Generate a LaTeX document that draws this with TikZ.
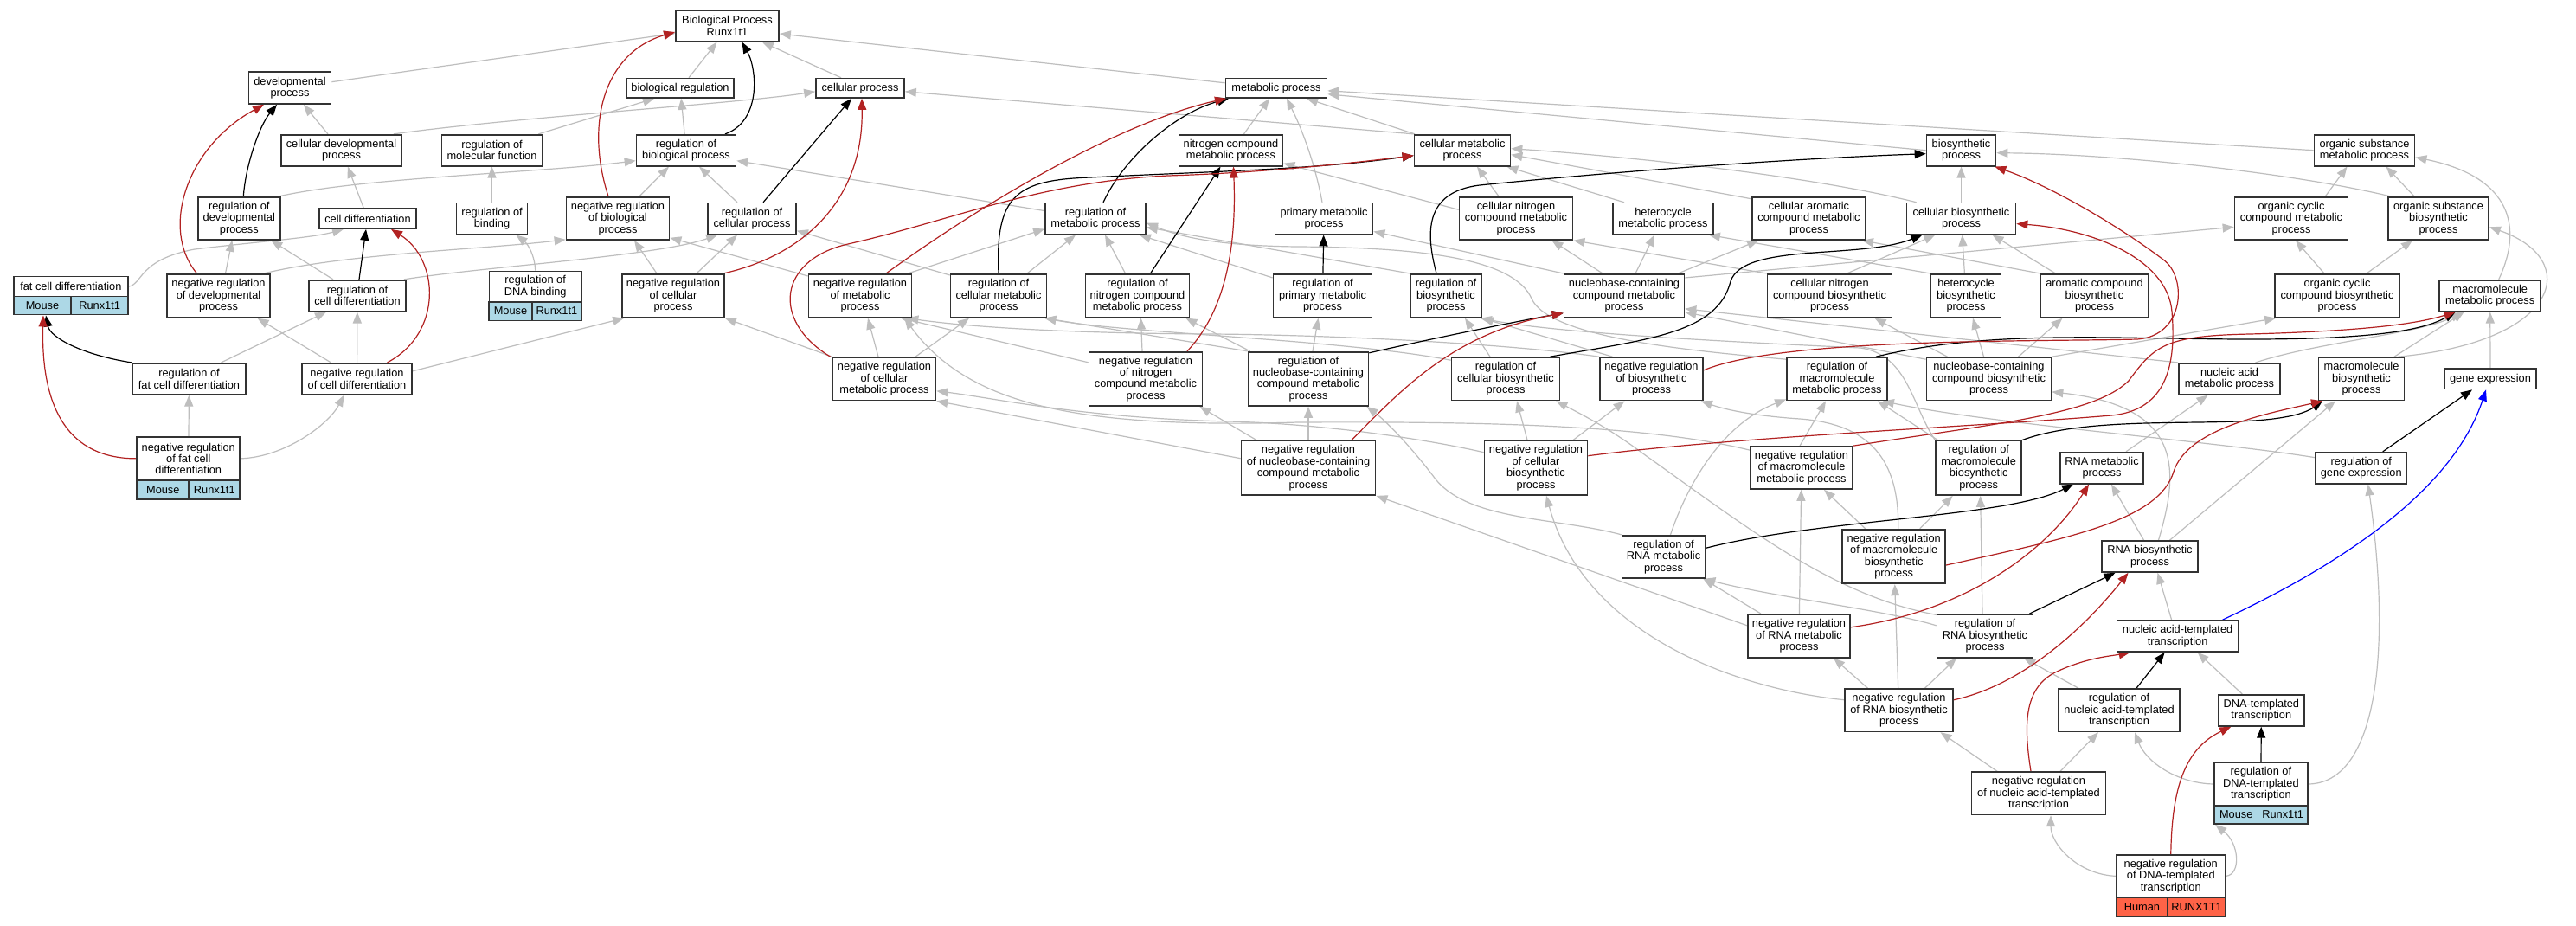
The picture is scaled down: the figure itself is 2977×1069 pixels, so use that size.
\documentclass[tikz,border=0pt]{standalone}
\usepackage{fontspec}
\setmainfont{Liberation Sans}
\usetikzlibrary{arrows.meta,backgrounds}
\definecolor{edgegray}{HTML}{BEBEBE}
\definecolor{fire}{HTML}{B22222}
\definecolor{boxc}{HTML}{333333}
\definecolor{mouseblue}{HTML}{ADD8E6}
\definecolor{humanred}{HTML}{FF6347}
\tikzset{
  box/.style={draw=boxc,line width=1.7pt,fill=white,inner sep=0pt,align=center,font=\fontsize{12.8}{13.4}\selectfont},
  cellm/.style={box,fill=mouseblue},
  cellh/.style={box,fill=humanred},
  edge/.style={line width=1.2pt,-{Triangle[length=13pt,width=10pt]}},
  isa/.style={edge,draw=edgegray},
  rg/.style={edge,draw=black},
  nrg/.style={edge,draw=fire},
  po/.style={edge,draw=blue}
}
\newcommand\gbox[6]{\node[box,minimum width=#4pt,minimum height=#5pt] (#1) at (#2,#3) {#6};}
\begin{document}
\begin{tikzpicture}[x=1pt,y=-1pt]
\useasboundingbox (0,0) rectangle (2977,1069);
% ---------------- nodes
\gbox{bp}{840.5}{30}{119}{35.5}{Biological Process\\Runx1t1}
\gbox{dev}{335}{101.5}{95}{37}{developmental\\process}
\gbox{bioreg}{786}{101.8}{124}{22.4}{biological regulation}
\gbox{cellp}{994}{101.8}{102}{22.4}{cellular process}
\gbox{metp}{1475}{101.8}{117}{22.4}{metabolic process}
\gbox{celldev}{394.5}{173.7}{139}{36}{cellular developmental\\process}
\gbox{regmf}{568.5}{173.7}{116}{36}{regulation of\\molecular function}
\gbox{regbp}{793}{173.7}{115}{36}{regulation of\\biological process}
\gbox{ncmp}{1422.5}{173.7}{120}{36}{nitrogen compound\\metabolic process}
\gbox{cmp}{1690}{173.7}{111}{36}{cellular metabolic\\process}
\gbox{bsp}{2266.5}{173.7}{80}{36}{biosynthetic\\process}
\gbox{osmp}{2732.5}{173.7}{116}{36}{organic substance\\metabolic process}
\gbox{regdev}{276.3}{252.3}{95}{49.3}{regulation of\\developmental\\process}
\gbox{celldiff}{425}{252.5}{112}{23}{cell differentiation}
\gbox{regbind}{568.5}{252.6}{82}{36}{regulation of\\binding}
\gbox{nrbp}{714}{252.3}{119}{49.3}{negative regulation\\of biological\\process}
\gbox{regcp}{869}{252.6}{102}{36}{regulation of\\cellular process}
\gbox{rmp}{1266}{252.6}{116}{36}{regulation of\\metabolic process}
\gbox{pmp}{1530}{252.6}{113}{36}{primary metabolic\\process}
\gbox{cncmp}{1752}{252.3}{131}{49.3}{cellular nitrogen\\compound metabolic\\process}
\gbox{hmp}{1922}{252.6}{116}{36}{heterocycle\\metabolic process}
\gbox{camp}{2090.5}{252.3}{131}{49.3}{cellular aromatic\\compound metabolic\\process}
\gbox{cbsp}{2266.5}{252.6}{126}{36}{cellular biosynthetic\\process}
\gbox{occmp}{2648}{252.3}{131}{49.3}{organic cyclic\\compound metabolic\\process}
\gbox{osbp}{2818}{252.3}{116}{49.3}{organic substance\\biosynthetic\\process}
% row 4
\gbox{fcd}{81.9}{331.1}{132.3}{23}{fat cell differentiation}
\node[cellm,minimum width=66.6pt,minimum height=21pt] (fcdm) at (49,353.1) {Mouse};
\node[cellm,minimum width=65.7pt,minimum height=21pt] (fcdr) at (115.15,353.1) {Runx1t1};
\gbox{nrdev}{252.5}{341.8}{119}{50}{negative regulation\\of developmental\\process}
\gbox{regcd}{413}{341.7}{112}{36}{regulation of\\cell differentiation}
\gbox{regdna}{618.7}{331.1}{106.7}{35.4}{regulation of\\DNA binding}
\node[cellm,minimum width=49.4pt,minimum height=21.7pt] (regdnam) at (590,359.65) {Mouse};
\node[cellm,minimum width=57.3pt,minimum height=21.7pt] (regdnar) at (643.35,359.65) {Runx1t1};
\gbox{nrcp}{778}{341.8}{118}{50}{negative regulation\\of cellular\\process}
\gbox{nrmp}{994}{341.8}{119}{50}{negative regulation\\of metabolic\\process}
\gbox{rcmp}{1154}{341.8}{111}{50}{regulation of\\cellular metabolic\\process}
\gbox{rncmp}{1314.5}{341.8}{120}{50}{regulation of\\nitrogen compound\\metabolic process}
\gbox{rpmp}{1528.5}{341.8}{114}{50}{regulation of\\primary metabolic\\process}
\gbox{rbsp}{1671}{341.8}{82}{50}{regulation of\\biosynthetic\\process}
\gbox{nbmp}{1877}{341.8}{139}{50}{nucleobase-containing\\compound metabolic\\process}
\gbox{cncbp}{2114.5}{341.8}{144}{50}{cellular nitrogen\\compound biosynthetic\\process}
\gbox{hbp}{2272}{341.8}{81}{50}{heterocycle\\biosynthetic\\process}
\gbox{acbp}{2420.5}{341.8}{124}{50}{aromatic compound\\biosynthetic\\process}
\gbox{occbp}{2701}{341.8}{144}{50}{organic cyclic\\compound biosynthetic\\process}
\gbox{mmp}{2877.7}{341.7}{117}{36}{macromolecule\\metabolic process}
% row 5
\gbox{rfcd}{218.5}{437.8}{131}{36}{regulation of\\fat cell differentiation}
\gbox{nrcd}{412.5}{437.8}{127}{36}{negative regulation\\of cell differentiation}
\gbox{nrcmp}{1022}{437.8}{119}{49.5}{negative regulation\\of cellular\\metabolic process}
\gbox{nrncmp}{1324}{437.8}{131}{62.3}{negative regulation\\of nitrogen\\compound metabolic\\process}
\gbox{rnbmp}{1512}{437.8}{139}{62.3}{regulation of\\nucleobase-containing\\compound metabolic\\process}
\gbox{rcbp}{1740}{437.8}{125}{49.5}{regulation of\\cellular biosynthetic\\process}
\gbox{nrbsp}{1908.5}{437.8}{119}{49.5}{negative regulation\\of biosynthetic\\process}
\gbox{rmmp}{2123}{437.8}{116}{49.5}{regulation of\\macromolecule\\metabolic process}
\gbox{nbbp}{2298.5}{437.8}{144}{49.5}{nucleobase-containing\\compound biosynthetic\\process}
\gbox{namp}{2576.5}{437.8}{117}{36}{nucleic acid\\metabolic process}
\gbox{mbp}{2729}{437.8}{99}{49.5}{macromolecule\\biosynthetic\\process}
\gbox{gexp}{2878}{437.8}{106}{23.4}{gene expression}
% row 6
\gbox{nrfcd}{217.8}{529.85}{119}{49.7}{negative regulation\\of fat cell\\differentiation}
\node[cellm,minimum width=60pt,minimum height=22.3pt] (nrfcdm) at (188.3,565.85) {Mouse};
\node[cellm,minimum width=59pt,minimum height=22.3pt] (nrfcdr) at (247.8,565.85) {Runx1t1};
\gbox{nrnbmp}{1512}{540.7}{155}{62.7}{negative regulation\\of nucleobase-containing\\compound metabolic\\process}
\gbox{nrcbp}{1775}{540.7}{119}{62.7}{negative regulation\\of cellular\\biosynthetic\\process}
\gbox{nrmmp}{2082}{540.5}{118}{49}{negative regulation\\of macromolecule\\metabolic process}
\gbox{rmbp}{2286.7}{540.7}{99}{62.7}{regulation of\\macromolecule\\biosynthetic\\process}
\gbox{rnamp}{2429}{540.7}{96}{36}{RNA metabolic\\process}
\gbox{rgexp}{2728.7}{540.7}{105}{36}{regulation of\\gene expression}
% row 7
\gbox{rrnamp}{1922.5}{643.3}{96}{49.3}{regulation of\\RNA metabolic\\process}
\gbox{nrmbp}{2188.7}{643}{119}{62.6}{negative regulation\\of macromolecule\\biosynthetic\\process}
\gbox{rnabp}{2484.5}{643}{111}{36}{RNA biosynthetic\\process}
% row 8
\gbox{nrrnamp}{2079}{734.8}{118}{49.7}{negative regulation\\of RNA metabolic\\process}
\gbox{rrnabp}{2294}{734.8}{111}{49.7}{regulation of\\RNA biosynthetic\\process}
\gbox{natt}{2516.6}{735}{140}{36}{nucleic acid-templated\\transcription}
% row 9
\gbox{nrrnabp}{2194.5}{820.7}{125.5}{49.3}{negative regulation\\of RNA biosynthetic\\process}
\gbox{rnatt}{2449}{820.7}{140}{49.3}{regulation of\\nucleic acid-templated\\transcription}
\gbox{dtt}{2613.3}{820.8}{99}{36}{DNA-templated\\transcription}
% row 10
\gbox{nrnatt}{2356}{916.7}{155}{49.3}{negative regulation\\of nucleic acid-templated\\transcription}
\gbox{rdtt}{2612.9}{906}{107.8}{49.4}{regulation of\\DNA-templated\\transcription}
\node[cellm,minimum width=50.4pt,minimum height=21.3pt] (rdttm) at (2584.2,941.35) {Mouse};
\node[cellm,minimum width=57.4pt,minimum height=21.3pt] (rdttr) at (2638.1,941.35) {Runx1t1};
\gbox{nrdtt}{2508.75}{1012.35}{126.3}{49.3}{negative regulation\\of DNA-templated\\transcription}
\node[cellh,minimum width=59.7pt,minimum height=21.7pt] (nrdtth) at (2475.45,1047.85) {Human};
\node[cellh,minimum width=66.6pt,minimum height=21.7pt] (nrdttr) at (2538.6,1047.85) {RUNX1T1};

\begin{scope}[on background layer]
\fill[white] (0,0) rectangle (2977,1069);
% ---------------- gray is_a edges
\draw[isa] (dev) -- (bp);
\draw[isa] ([xshift=10pt]bioreg.north) -- ([xshift=-12pt]bp.south);
\draw[isa] ([xshift=-22pt]cellp.north) -- ([xshift=-20pt]bp.south east);
\draw[isa] ([yshift=6pt]metp.west) -- ([yshift=-9pt]bp.east);
\draw[isa] (celldev) -- (dev);
\draw[isa] (celldiff) -- (celldev);
\draw[isa] ([xshift=-10pt]celldev.north east) .. controls (600,135) and (850,120) .. ([yshift=-4pt]cellp.west);
\draw[isa] ([xshift=-2pt]regdev.north east) .. controls (420,205) and (620,200) .. ([yshift=-12pt]regbp.west);
\draw[isa] ([xshift=25pt]nrbp.north) -- ([xshift=-20pt]regbp.south);
\draw[isa] ([xshift=-17pt]regcp.north) -- ([xshift=15pt]regbp.south);
\draw[isa] ([yshift=9pt]rmp.west) -- ([yshift=-12pt]regbp.east);
\draw[isa] ([xshift=-5pt]regmf.north east) -- ([xshift=-30pt]bioreg.south);
\draw[isa] (regbp) -- (bioreg);
\draw[isa] (cmp.north west) -- ([yshift=-4pt]cellp.east);
\draw[isa] ([xshift=15pt]ncmp.north) -- ([xshift=-8pt]metp.south);
\draw[isa] ([xshift=-55pt]cmp.north) -- ([xshift=35pt]metp.south);
\draw[isa] ([xshift=-2pt]pmp.north) .. controls (1520,190) and (1505,150) .. ([xshift=12pt]metp.south);
\draw[isa] (osmp.west) -- ([yshift=-3pt]metp.east);
\draw[isa] (bsp.west) -- ([yshift=-7pt]metp.east);
\draw[isa] ([yshift=10pt]cncmp.west) -- ([yshift=-15pt]ncmp.east);
\draw[isa] ([xshift=-20pt]cncmp.north) -- ([xshift=17pt]cmp.south);
\draw[isa] ([xshift=-45pt]hmp.north) -- ([xshift=-5pt]cmp.south east);
\draw[isa] ([yshift=-3pt]camp.north west) -- ([yshift=-5pt]cmp.east);
\draw[isa] ([xshift=12pt]cbsp.north west) .. controls (2100,205) and (1900,182) .. ([yshift=2pt]cmp.east);
\draw[isa] (cbsp) -- (bsp);
\draw[isa] ([xshift=3pt]osbp.north west) .. controls (2650,200) and (2450,178) .. ([yshift=-3pt]bsp.east);
\draw[isa] ([xshift=-27pt]occmp.north east) -- ([xshift=-20pt]osmp.south);
\draw[isa] ([xshift=-28pt]osbp.north) -- ([xshift=25pt]osmp.south);
\draw[isa] ([xshift=10pt]mmp.north) .. controls (2915,265) and (2905,205) .. ([yshift=-8pt]osmp.east);
\draw[isa] ([xshift=-15pt]occbp.north) -- ([xshift=5pt]occmp.south);
\draw[isa] ([yshift=-5pt]nbmp.north east) -- ([yshift=-10pt]occmp.west);
\draw[isa] ([xshift=34pt]occbp.north) -- ([xshift=-30pt]osbp.south);
\draw[isa] ([xshift=-8pt]mbp.north east) .. controls (2960,395) and (2985,300) .. ([yshift=-10pt]osbp.east);
\draw[isa] ([xshift=30pt]namp.north) .. controls (2680,395) and (2800,385) .. ([xshift=-33pt]mmp.south);
\draw[isa] ([xshift=38pt]mbp.north) -- ([xshift=-30pt]mmp.south);
\draw[isa] (gexp) -- (mmp);
\draw[isa] ([xshift=23pt]rnabp.north) -- ([xshift=-30pt]mbp.south);
\draw[isa] ([xshift=28pt]rnamp.north) -- ([xshift=-25pt]namp.south);
\draw[isa] (namp.north west) -- ([yshift=-15pt]nbmp.east);
\draw[isa] ([yshift=-3pt]nbbp.north west) -- ([yshift=-19pt]nbmp.east);
\draw[isa] ([xshift=-25pt]nbmp.north) -- ([xshift=-25pt]cncmp.south east);
\draw[isa] ([xshift=13pt]nbmp.north) -- ([xshift=-10pt]hmp.south);
\draw[isa] ([xshift=-8pt]nbmp.north east) -- ([xshift=8pt]camp.south west);
\draw[isa] (nbmp.north west) -- ([yshift=4pt]pmp.south east);
\draw[isa] (cncbp.north west) -- (cncmp.south east);
\draw[isa] (hbp.north west) -- ([xshift=-6pt]hmp.south east);
\draw[isa] (acbp.north west) -- ([xshift=-5pt]camp.south east);
\draw[isa] ([xshift=-5pt]nrmp.north east) -- ([yshift=-12pt]rmp.west);
\draw[isa] ([xshift=33pt]rcmp.north) -- ([xshift=-23pt]rmp.south);
\draw[isa] ([xshift=-14pt]rncmp.north) -- ([xshift=11pt]rmp.south);
\draw[isa] ([yshift=-5pt]rpmp.north west) -- ([xshift=-8pt]rmp.south east);
\draw[isa] (rbsp.north west) -- ([yshift=-10pt]rmp.east);
\draw[isa] ([yshift=-3pt]rmmp.north west) .. controls (1950,405) and (1790,390) .. (1770,345) .. controls (1750,300) and (1650,286) .. (1500,285) .. controls (1400,284) and (1360,272) .. ([yshift=-5pt]rmp.east);
\draw[isa] ([xshift=36pt]nrcmp.north) -- ([xshift=-34pt]rcmp.south);
\draw[isa] ([yshift=-4pt]rcbp.north west) .. controls (1550,392) and (1300,385) .. ([xshift=-3pt]rcmp.south east);
\draw[isa] (rnbmp.north west) -- ([xshift=-3pt]rcmp.south east);
\draw[isa] ([xshift=-4pt]nrncmp.north) -- ([xshift=4pt]rncmp.south);
\draw[isa] ([xshift=3pt]rnbmp.north west) -- ([xshift=-5pt]rncmp.south east);
\draw[isa] ([xshift=5pt]rnbmp.north) -- ([xshift=-5pt]rpmp.south);
\draw[isa] ([xshift=-18pt]rcbp.north) -- ([xshift=22pt]rbsp.south);
\draw[isa] ([xshift=-45pt]nrbsp.north) -- (rbsp.south east);
\draw[isa] (rmbp.north west) .. controls (2210,470) and (2205,410) .. (2150,402) .. controls (2000,395) and (1800,385) .. ([xshift=-2pt]rbsp.south east);
\draw[isa] ([xshift=-7pt]nrcmp.north) -- ([xshift=9pt]nrmp.south);
\draw[isa] ([yshift=-13pt]nrncmp.north west) -- ([xshift=-13pt]nrmp.south east);
\draw[isa] (nrbsp.north west) .. controls (1750,398) and (1550,387) .. (1400,386) .. controls (1200,385) and (1100,375) .. ([xshift=-6pt]nrmp.south east);
\draw[isa] ([yshift=-5pt]nrmmp.north west) .. controls (1900,490) and (1700,487) .. (1500,488) .. controls (1250,495) and (1120,470) .. ([xshift=-9pt]nrmp.south east);
\draw[isa] ([yshift=9pt]nrcd.east) -- ([xshift=3pt]nrcp.south west);
\draw[isa] (nrcmp.north west) -- (nrcp.south east);
\draw[isa] ([xshift=-19pt]nrcp.north) -- ([xshift=19pt]nrbp.south);
\draw[isa] ([xshift=27pt]nrcp.north) -- ([xshift=-17pt]regcp.south);
\draw[isa] ([xshift=-8pt]nrdev.north east) .. controls (400,293) and (560,288) .. ([yshift=1pt]nrbp.south west);
\draw[isa] ([yshift=-3pt]nrmp.north west) -- ([yshift=3pt]nrbp.south east);
\draw[isa] ([xshift=-3pt]regcd.north east) .. controls (560,308) and (760,296) .. ([xshift=12pt]regcp.south west);
\draw[isa] ([yshift=-2pt]rcmp.north west) -- ([yshift=-14pt]regcp.east);
\draw[isa] ([xshift=-28pt]regcd.north) -- ([xshift=37pt]regdev.south);
\draw[isa] ([xshift=8pt]nrdev.north) -- ([xshift=-8pt]regdev.south);
\draw[isa] (fcd.east) .. controls (165,328) and (160,300) .. (225,288) .. controls (300,279) and (360,275) .. ([xshift=-28pt]celldiff.south);
\draw[isa] (nrfcd) -- (rfcd);
\draw[isa] (nrfcd.east) .. controls (330,528) and (380,490) .. ([xshift=-15pt]nrcd.south);
\draw[isa] ([xshift=37pt]rfcd.north) -- ([xshift=-36pt]regcd.south);
\draw[isa] (nrcd) -- (regcd);
\draw[isa] ([xshift=-30pt]nrcd.north) -- ([xshift=45pt]nrdev.south);
\draw[isa] (regdna.north) .. controls (618,295) and (610,282) .. ([xshift=28pt]regbind.south);
\draw[isa] (regbind) -- (regmf);
\draw[isa] ([xshift=-7pt]rnabp.north) -- ([xshift=11pt]rnamp.south);
\draw[isa] ([xshift=10pt]rnabp.north) .. controls (2518,545) and (2525,470) .. ([yshift=-15pt]nbbp.east);
\draw[isa] ([xshift=-44pt]nrrnamp.north) -- ([xshift=-3pt]rrnamp.south east);
\draw[isa] (nrrnamp) -- (nrmmp);
\draw[isa] ([yshift=12pt]nrrnamp.west) -- (nrnbmp.south east);
\draw[isa] ([yshift=12pt]rrnabp.west) .. controls (2180,705) and (2050,690) .. ([xshift=-2pt]rrnamp.south east);
\draw[isa] ([xshift=-3pt]rrnabp.north) -- ([xshift=2pt]rmbp.south);
\draw[isa] ([xshift=4pt,yshift=-2pt]rrnabp.north west) .. controls (2120,690) and (2020,610) .. (1900,525) .. controls (1860,495) and (1830,480) .. ([xshift=-5pt]rcbp.south east);
\draw[isa] ([xshift=-36pt]nrrnabp.north) -- ([xshift=40pt]nrrnamp.south);
\draw[isa] ([xshift=30pt]nrrnabp.north) -- ([xshift=-33pt]rrnabp.south);
\draw[isa] (nrrnabp) -- (nrmbp);
\draw[isa] ([yshift=12pt]nrrnabp.west) .. controls (2000,795) and (1830,730) .. ([xshift=12pt]nrcbp.south);
\draw[isa] ([xshift=-48pt]nrnatt.north) -- ([xshift=48pt]nrrnabp.south);
\draw[isa] ([xshift=25pt]nrnatt.north) -- ([xshift=-24pt]rnatt.south);
\draw[isa] ([xshift=-47pt]rnatt.north) -- ([xshift=45pt]rrnabp.south);
\draw[isa] ([xshift=-22pt]dtt.north) -- ([xshift=23pt]natt.south);
\draw[isa] (rdtt.west) .. controls (2515,905) and (2480,880) .. ([xshift=18pt]rnatt.south);
\draw[isa] (rdtt.east) .. controls (2745,905) and (2765,760) .. ([xshift=8pt]rgexp.south);
\draw[isa] (nrdtt.west) .. controls (2400,1010) and (2370,975) .. ([xshift=14pt]nrnatt.south);
\draw[isa] (nrdtt.east) .. controls (2590,1010) and (2588,975) .. ([xshift=2pt]rdttm.south west);
\draw[isa] ([xshift=-7pt]natt.north) -- ([xshift=9pt]rnabp.south);
\draw[isa] ([yshift=12pt]rgexp.west) .. controls (2560,510) and (2300,490) .. ([xshift=-6pt]rmmp.south east);
\draw[isa] ([xshift=3pt]rmbp.north west) -- ([xshift=-12pt]rmmp.south east);
\draw[isa] ([xshift=30pt]nrmbp.north) -- ([xshift=-30pt]rmbp.south);
\draw[isa] ([xshift=-33pt]nrmbp.north) -- ([xshift=26pt]nrmmp.south);
\draw[isa] ([xshift=5pt]nrmbp.north) .. controls (2195,530) and (2160,490) .. (2080,484) .. controls (2020,480) and (1990,472) .. ([xshift=-3pt]nrbsp.south east);
\draw[isa] ([xshift=-2pt]nrmmp.north) -- ([xshift=-13pt]rmmp.south);
\draw[isa] ([xshift=-10pt]nrcbp.north) -- ([xshift=13pt]rcbp.south);
\draw[isa] ([xshift=43pt]nrcbp.north) -- ([xshift=-31pt]nrbsp.south);
\draw[isa] ([yshift=18pt]nrcbp.west) .. controls (1660,510) and (1540,490) .. (1420,487) .. controls (1250,483) and (1150,460) .. ([yshift=-14pt]nrcmp.east);
\draw[isa] ([yshift=11pt]nrnbmp.west) -- (nrcmp.south east);
\draw[isa] ([xshift=-60pt]nrnbmp.north) -- ([xshift=-4pt]nrncmp.south east);
\draw[isa] (nrnbmp) -- (rnbmp);
\draw[isa] (rrnamp.north west) .. controls (1800,598) and (1700,602) .. (1660,555) .. controls (1630,515) and (1600,485) .. ([xshift=-3pt]rnbmp.south east);
\draw[isa] ([xshift=8pt]rrnamp.north) .. controls (1950,560) and (1990,490) .. ([yshift=2pt]rmmp.south west);
\draw[isa] ([xshift=-48pt]nbbp.north) -- ([xshift=52pt]cncbp.south);
\draw[isa] ([xshift=-6pt]nbbp.north) -- ([xshift=8pt]hbp.south);
\draw[isa] ([xshift=34pt]nbbp.north) -- ([xshift=-37pt]acbp.south);
\draw[isa] (nbbp.north east) -- ([xshift=2pt]occbp.south west);
\draw[isa] ([xshift=20pt]cncbp.north) -- ([xshift=-30pt]cbsp.south);
\draw[isa] (hbp) -- (cbsp);
\draw[isa] ([xshift=-45pt]acbp.north) -- ([xshift=36pt]cbsp.south);
% ---------------- black regulates edges
\draw[rg] ([xshift=45pt]regbp.north) .. controls (880,140) and (875,80) .. ([xshift=17pt]bp.south);
\draw[rg] ([xshift=5pt]regdev.north) .. controls (284,190) and (300,145) .. ([xshift=-15pt]dev.south);
\draw[rg] ([xshift=13pt]regcp.north) -- ([xshift=-10pt]cellp.south);
\draw[rg] ([xshift=9pt]rmp.north) .. controls (1300,180) and (1360,130) .. ([xshift=-55pt]metp.south);
\draw[rg] ([xshift=15pt]rncmp.north) -- ([xshift=-12pt]ncmp.south);
\draw[rg] (rcmp.north) .. controls (1150,225) and (1175,208) .. (1260,205) .. controls (1400,198) and (1520,196) .. ([yshift=-6pt]cmp.west);
\draw[rg] ([xshift=-11pt]rbsp.north) .. controls (1648,270) and (1645,222) .. (1710,214) .. controls (1900,195) and (2100,182) .. ([yshift=-4pt]bsp.west);
\draw[rg] (rpmp) -- (pmp);
\draw[rg] ([xshift=2pt]regcd.north) -- ([xshift=-2pt]celldiff.south);
\draw[rg] (rfcd.north west) .. controls (95,410) and (58,390) .. ([xshift=4pt]fcdm.south);
\draw[rg] ([yshift=-2pt]rnbmp.north east) .. controls (1660,390) and (1760,370) .. ([yshift=-20pt]nbmp.west);
\draw[rg] ([xshift=-12pt]rcbp.north east) .. controls (1905,392) and (1985,385) .. (2000,325) .. controls (2015,280) and (2150,300) .. ([xshift=-45pt]cbsp.south);
\draw[rg] ([xshift=45pt]rmmp.north) .. controls (2300,380) and (2450,392) .. (2600,392) .. controls (2740,392) and (2800,382) .. ([xshift=-40pt]mmp.south);
\draw[rg] (rmbp.north east) .. controls (2420,478) and (2570,495) .. (2640,482) .. controls (2665,478) and (2675,470) .. ([xshift=-45pt]mbp.south);
\draw[rg] ([yshift=10pt]rrnamp.east) .. controls (2100,600) and (2320,598) .. ([xshift=-33pt]rnamp.south);
\draw[rg] ([xshift=-5pt]rrnabp.north east) -- ([xshift=-40pt]rnabp.south);
\draw[rg] ([xshift=20pt]rnatt.north) -- ([xshift=-15pt]natt.south);
\draw[rg] (rdtt) -- (dtt);
\draw[rg] ([xshift=25pt]rgexp.north) -- ([xshift=-21pt]gexp.south);
% ---------------- red negatively regulates edges
\draw[nrg] ([xshift=-11pt]nrbp.north) .. controls (675,140) and (700,60) .. ([yshift=-7pt]bp.west);
\draw[nrg] ([xshift=-25pt]nrdev.north) .. controls (185,265) and (215,170) .. ([xshift=-30pt]dev.south);
\draw[nrg] ([xshift=-2pt]nrcp.north east) .. controls (930,295) and (998,230) .. ([xshift=2pt]cellp.south);
\draw[nrg] ([xshift=30pt]nrmp.north) .. controls (1150,225) and (1300,140) .. ([xshift=-58pt]metp.south);
\draw[nrg] ([xshift=48pt]nrncmp.north) .. controls (1425,350) and (1428,260) .. ([xshift=3pt]ncmp.south);
\draw[nrg] ([xshift=-2pt]nrcmp.north west) .. controls (890,370) and (900,300) .. (980,282) .. controls (1100,255) and (1200,210) .. (1350,203) .. controls (1450,200) and (1550,190) .. ([yshift=-6pt]cmp.west);
\draw[nrg] ([yshift=10pt]nrbsp.east) .. controls (2060,390) and (2350,395) .. (2470,392) .. controls (2525,388) and (2528,320) .. (2500,300) .. controls (2450,262) and (2370,215) .. ([xshift=-2pt]bsp.south east);
\draw[nrg] ([yshift=14pt]nrcbp.east) .. controls (2000,505) and (2300,492) .. (2440,480) .. controls (2505,474) and (2515,420) .. (2510,360) .. controls (2505,300) and (2420,265) .. ([yshift=-6pt]cbsp.east);
\draw[nrg] ([xshift=35pt]nrcd.north) .. controls (512,385) and (508,300) .. ([xshift=27pt]celldiff.south);
\draw[nrg] (nrfcd.west) .. controls (60,530) and (48,440) .. ([xshift=1pt]fcdm.south);
\draw[nrg] ([xshift=50pt]nrnbmp.north) .. controls (1620,450) and (1680,385) .. ([yshift=-20pt]nbmp.west);
\draw[nrg] (nrmmp.north east) .. controls (2300,490) and (2420,480) .. (2460,440) .. controls (2490,400) and (2500,388) .. (2600,386) .. controls (2750,382) and (2800,372) .. ([xshift=-40pt]mmp.south);
\draw[nrg] ([yshift=-10pt]nrmbp.east) .. controls (2400,620) and (2495,600) .. (2512,545) .. controls (2528,495) and (2620,478) .. ([xshift=-45pt]mbp.south);
\draw[nrg] ([yshift=10pt]nrrnamp.east) .. controls (2280,705) and (2370,630) .. ([xshift=-15pt]rnamp.south);
\draw[nrg] ([yshift=12pt]nrrnabp.east) .. controls (2335,792) and (2405,730) .. ([xshift=-25pt]rnabp.south);
\draw[nrg] ([xshift=-9pt]nrnatt.north) .. controls (2338,835) and (2340,795) .. (2375,777) .. controls (2410,760) and (2440,758) .. ([xshift=-55pt]natt.south);
\draw[nrg] (nrdtt.north) .. controls (2510,910) and (2525,865) .. ([xshift=-35pt]dtt.south);
% ---------------- blue
\draw[po] ([xshift=52pt]natt.north) .. controls (2710,650) and (2835,565) .. ([xshift=-5pt]gexp.south);
\end{scope}
\end{tikzpicture}
\end{document}
